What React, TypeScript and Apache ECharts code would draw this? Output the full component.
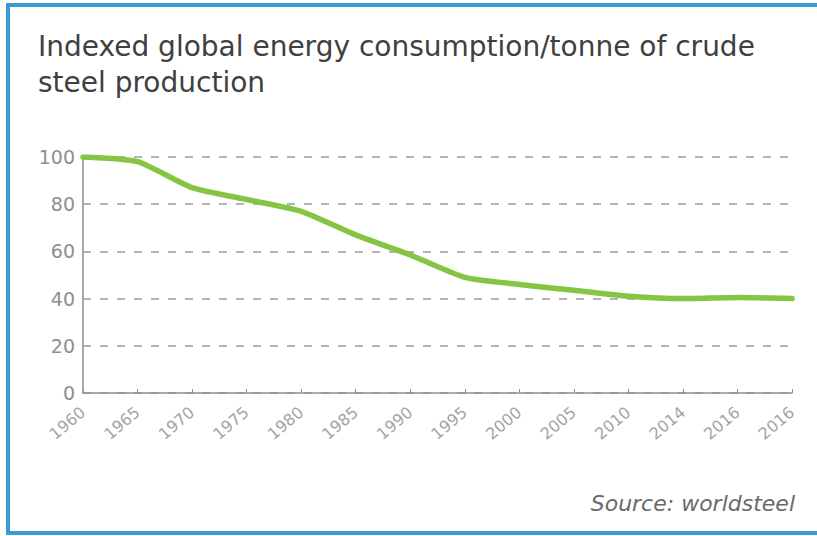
import React, { useEffect, useRef } from "react";
import * as echarts from "echarts";

// Axis categories (label years as printed on the chart)
const years = [
  "1960", "1965", "1970", "1975", "1980", "1985", "1990",
  "1995", "2000", "2005", "2010", "2014", "2016", "2016",
];

// Indexed energy consumption per tonne of crude steel (1960 = 100)
const energyIndex = [100, 98, 87, 82, 77, 67, 58.5, 49, 46, 43.5, 41, 40, 40.5, 40];

// Y-axis ticks
const yMin = 0;
const yMax = 100;
const yStep = 20;

const titleText = "Indexed global energy consumption/tonne of crude\nsteel production";
const sourceText = "Source: worldsteel";

export default function App() {
  const ref = useRef<HTMLDivElement>(null);

  useEffect(() => {
    if (!ref.current) return;
    const chart = echarts.init(ref.current, null, { renderer: "svg" });
    const font = "'DejaVu Sans', Verdana, sans-serif";
    chart.setOption({
      animation: false,
      backgroundColor: "#ffffff",
      textStyle: { fontFamily: font },
      title: {
        text: titleText,
        left: 33,
        top: 23,
        textStyle: {
          fontFamily: font,
          fontSize: 28,
          fontWeight: "normal",
          color: "#404040",
          lineHeight: 36,
        },
      },
      grid: { left: 83, right: 25, top: 157, bottom: 143, containLabel: false },
      xAxis: {
        type: "category",
        data: years,
        boundaryGap: false,
        axisLine: { show: true, lineStyle: { color: "#8f8f8f", width: 1.5 } },
        axisTick: { show: true, inside: true, length: 4, lineStyle: { color: "#8f8f8f" } },
        axisLabel: {
          rotate: 40,
          margin: 17,
          fontSize: 16,
          color: "#a3a3a3",
          fontFamily: font,
        },
        splitLine: { show: false },
      },
      yAxis: {
        type: "value",
        min: yMin,
        max: yMax,
        interval: yStep,
        axisLine: { show: true, lineStyle: { color: "#8f8f8f", width: 1.5 } },
        axisTick: { show: false },
        axisLabel: { margin: 8, fontSize: 19, color: "#8e8e8e", fontFamily: font },
        splitLine: {
          show: true,
          lineStyle: { color: "#9a9a9a", width: 1.5, type: [8, 9] },
        },
      },
      series: [
        {
          type: "line",
          data: energyIndex,
          smooth: 0.2,
          showSymbol: false,
          lineStyle: { color: "#86c543", width: 5.5, cap: "round", join: "round" },
          z: 5,
        },
      ],
      graphic: [
        {
          type: "text",
          right: 22,
          top: 492,
          style: {
            text: sourceText,
            fontSize: 22,
            fontStyle: "italic",
            fontFamily: font,
            fill: "#6a6a6a",
          },
        },
      ],
    });
    return () => chart.dispose();
  }, []);

  return (
    <div
      style={{
        position: "fixed",
        left: 0,
        top: 0,
        width: 817,
        height: 536,
        overflow: "hidden",
        background: "#ffffff",
      }}
    >
      <div ref={ref} style={{ position: "absolute", left: 0, top: 0, width: 817, height: 536 }} />
      <div
        style={{
          position: "absolute",
          left: 6,
          top: 3,
          width: 840,
          height: 524,
          border: "4px solid #3a9ad8",
          pointerEvents: "none",
        }}
      />
    </div>
  );
}
